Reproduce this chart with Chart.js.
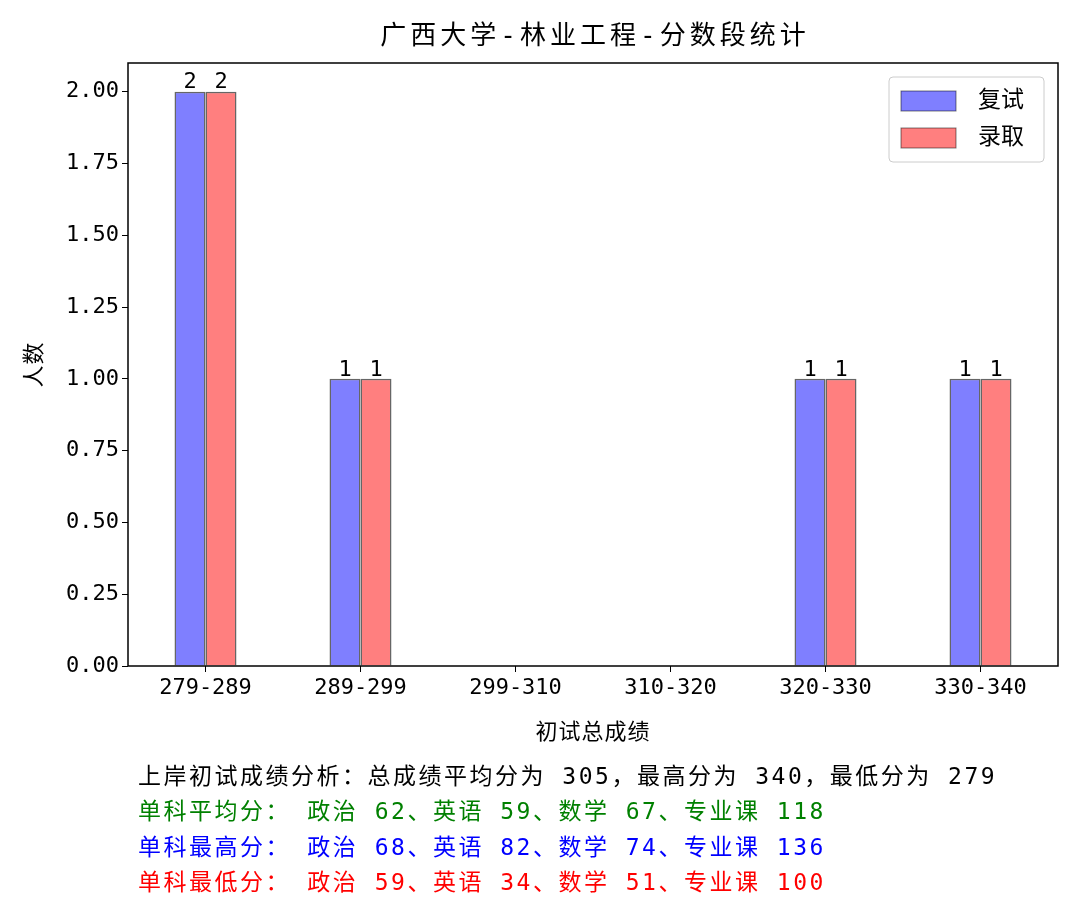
<!DOCTYPE html>
<html><head><meta charset="utf-8">
<script src="https://cdn.jsdelivr.net/npm/chart.js@4"></script>
<style>body{margin:0;background:#fff}#wrap{width:1080px;height:918px}</style>
</head><body><div id="wrap"><canvas id="c" width="1080" height="918"></canvas></div>
<script>
const FONT = '"DejaVu Sans Mono", "Noto Sans CJK SC", monospace';
const categories = ['279-289', '289-299', '299-310', '310-320', '320-330', '330-340'];
const retest = [2, 1, 0, 0, 1, 1];
const admitted = [2, 1, 0, 0, 1, 1];
const seriesNames = ['复试', '录取'];
const notes = [
  ['上岸初试成绩分析：总成绩平均分为 305，最高分为 340，最低分为 279', '#000'],
  ['单科平均分： 政治 62、英语 59、数学 67、专业课 118', 'green'],
  ['单科最高分： 政治 68、英语 82、数学 74、专业课 136', 'blue'],
  ['单科最低分： 政治 59、英语 34、数学 51、专业课 100', 'red']
];

const extras = {
  id: 'extras',
  afterDraw(chart) {
    const { ctx, chartArea: a } = chart;
    ctx.save();
    ctx.strokeStyle = '#000'; ctx.lineWidth = 1.5;
    ctx.strokeRect(a.left, a.top, a.right - a.left, a.bottom - a.top);
    ctx.fillStyle = '#000';
    ctx.textAlign = 'center'; ctx.textBaseline = 'middle';
    ctx.letterSpacing = '4px';
    ctx.font = '26px ' + FONT;
    ctx.fillText('广西大学-林业工程-分数段统计', (a.left + a.right) / 2 + 2, 37);
    ctx.letterSpacing = '1px';
    ctx.font = '22px ' + FONT;
    ctx.fillText('初试总成绩', (a.left + a.right) / 2, 733);
    ctx.save(); ctx.translate(35, (a.top + a.bottom) / 2); ctx.rotate(-Math.PI / 2);
    ctx.fillText('人数', 0, 0); ctx.restore();
    ctx.letterSpacing = '0px';
    // value labels
    ctx.textBaseline = 'bottom';
    chart.data.datasets.forEach((ds, i) => {
      chart.getDatasetMeta(i).data.forEach((bar, j) => {
        if (ds.data[j] > 0) ctx.fillText(String(ds.data[j]), bar.x, bar.y + 2);
      });
    });
    // legend
    const lx = 889, ly = 77;
    ctx.strokeStyle = '#ccc'; ctx.lineWidth = 1;
    ctx.fillStyle = '#fff';
    ctx.beginPath(); ctx.roundRect(lx, ly, 155, 85, 4); ctx.fill(); ctx.stroke();
    ctx.textAlign = 'left'; ctx.textBaseline = 'middle';
    chart.data.datasets.forEach((ds, i) => {
      const y = ly + 24 + i * 37;
      ctx.fillStyle = ds.backgroundColor; ctx.fillRect(lx + 12, y - 10, 55, 20);
      ctx.strokeStyle = 'rgba(0,0,0,0.5)'; ctx.strokeRect(lx + 12, y - 10, 55, 20);
      ctx.fillStyle = '#000'; ctx.font = '23px ' + FONT;
      ctx.fillText(ds.label, lx + 89, y);
    });
    // notes
    ctx.font = '23px ' + FONT;
    ctx.letterSpacing = '2.5px';
    notes.forEach(([t, c], i) => {
      ctx.fillStyle = c; ctx.fillText(t, 138, 778 + i * 35.5);
    });
    ctx.restore();
  }
};

new Chart(document.getElementById('c'), {
  type: 'bar',
  data: {
    labels: categories,
    datasets: [
      { label: seriesNames[0], data: retest, backgroundColor: 'rgba(0,0,255,0.5)', borderColor: 'rgba(0,0,0,0.6)', borderWidth: 1.5 },
      { label: seriesNames[1], data: admitted, backgroundColor: 'rgba(255,0,0,0.5)', borderColor: 'rgba(0,0,0,0.6)', borderWidth: 1.5 }
    ]
  },
  options: {
    responsive: false, animation: false,
    layout: { padding: { left: 0, top: 63, right: 22, bottom: 0 } },
    categoryPercentage: 0.4, barPercentage: 1,
    plugins: { legend: { display: false }, tooltip: { enabled: false } },
    scales: {
      x: {
        grid: { drawOnChartArea: false, offset: false, tickLength: 6, color: '#000' },
        border: { display: false },
        ticks: { color: '#000', font: { size: 22, family: FONT }, maxRotation: 0 },
        afterFit(s) { s.height = 918 - 666; }
      },
      y: {
        min: 0, max: 2.1,
        grid: { drawOnChartArea: false, tickLength: 6, color: '#000' },
        border: { display: false },
        ticks: { stepSize: 0.25, color: '#000', font: { size: 22, family: FONT }, callback: v => v.toFixed(2) },
        afterBuildTicks(s) { s.ticks = s.ticks.filter(t => t.value <= 2.0001); },
        afterFit(s) { s.width = 128; }
      }
    }
  },
  plugins: [extras]
});
</script></body></html>
